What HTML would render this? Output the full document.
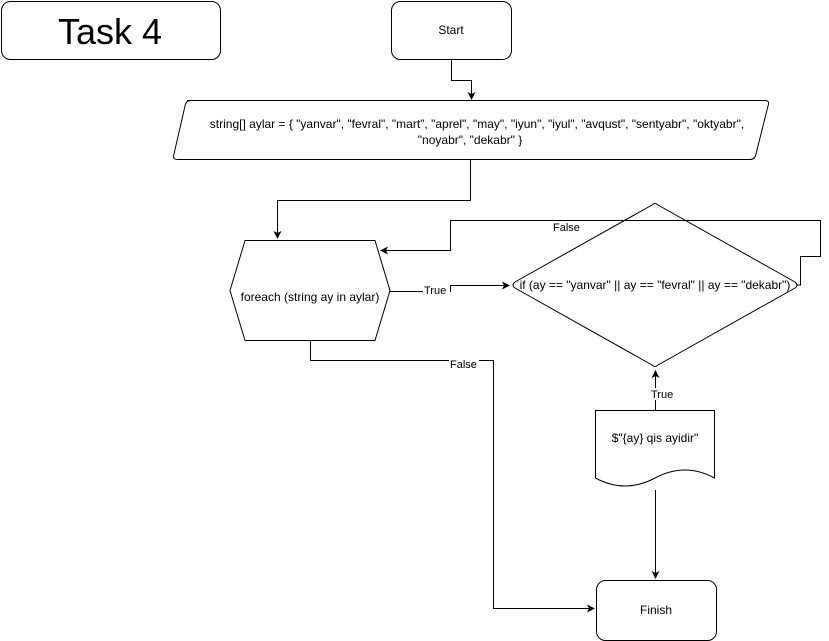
<!DOCTYPE html>
<html><head><style>body{margin:0;background:#fff}svg{display:block}text{font-family:"Liberation Sans",sans-serif;font-size:12px;fill:#000}</style></head><body>
<svg width="829" height="641" viewBox="0 0 829 641" xmlns="http://www.w3.org/2000/svg">
<defs><marker id="a" markerWidth="8" markerHeight="8" refX="7" refY="4" orient="auto" markerUnits="userSpaceOnUse"><path d="M0,0 L8,4 L0,8 L2,4 z" fill="#000"/></marker></defs>
<g fill="none" stroke="#000" stroke-width="1">
<rect x="1.5" y="1.5" width="219" height="58" rx="9"/>
<rect x="391.5" y="1.5" width="120" height="58" rx="9"/>
<path d="M187,100.5 L765,100.5 Q770,100.5 768,106 L756,154 Q755,159.5 750,159.5 L178,159.5 Q172,159.5 174,154 L185,106 Q186,100.5 191,100.5 Z"/>
<path d="M245,240.5 L375,240.5 L390,290.5 L375,340.5 L245,340.5 L230,290.5 Z"/>
<path d="M652,205 Q655,202 658,205 L795,282 Q799,285 795,288 L658,365 Q655,368 652,365 L515,288 Q511,285 515,282 Z"/>
<path d="M595.5,410.5 L714.5,410.5 L714.5,478 Q685,462 655,478 Q625,494 595.5,478 Z"/>
<rect x="596.5" y="580.5" width="120" height="60" rx="9"/>
<path d="M451.5,60 L451.5,80.5 L471.5,80.5 L471.5,99" marker-end="url(#a)"/>
<path d="M470.5,160 L470.5,200.5 L277.5,200.5 L277.5,238" marker-end="url(#a)"/>
<path d="M390,291.5 L450.5,291.5 L450.5,285.5 L509,285.5" marker-end="url(#a)"/>
<path d="M797,285 L800.5,285 L800.5,256.5 L820.5,256.5 L820.5,220.5 L450.5,220.5 L450.5,250.5 L381,250.5" marker-end="url(#a)"/>
<path d="M310.5,341 L310.5,360.5 L493.5,360.5 L493.5,608.5 L594,608.5" marker-end="url(#a)"/>
<path d="M655.5,410 L655.5,371" marker-end="url(#a)"/>
<path d="M655.5,490 L655.5,578" marker-end="url(#a)"/>
</g>
<text x="110" y="44" text-anchor="middle" style="font-size:36px">Task 4</text>
<text x="451" y="34" text-anchor="middle">Start</text>
<text x="477" y="128" text-anchor="middle">string[] aylar = { "yanvar", "fevral", "mart", "aprel", "may", "iyun", "iyul", "avqust", "sentyabr", "oktyabr",</text>
<text x="470" y="144" text-anchor="middle">"noyabr", "dekabr" }</text>
<text x="310" y="301" text-anchor="middle">foreach (string ay in aylar)</text>
<text x="655" y="289" text-anchor="middle">if (ay == "yanvar" || ay == "fevral" || ay == "dekabr")</text>
<text x="655" y="442" text-anchor="middle">$"{ay} qis ayidir"</text>
<text x="656" y="614" text-anchor="middle">Finish</text>
<rect x="423" y="284" width="27" height="12" fill="#fff"/><text x="424" y="294" style="font-size:11px">True</text>
<text x="553" y="231" style="font-size:11px">False</text>
<rect x="449" y="357" width="30" height="12" fill="#fff"/><text x="450" y="368" style="font-size:11px">False</text>
<rect x="650" y="388" width="26" height="12" fill="#fff"/><text x="651" y="398" style="font-size:11px">True</text>
</svg>
</body></html>
